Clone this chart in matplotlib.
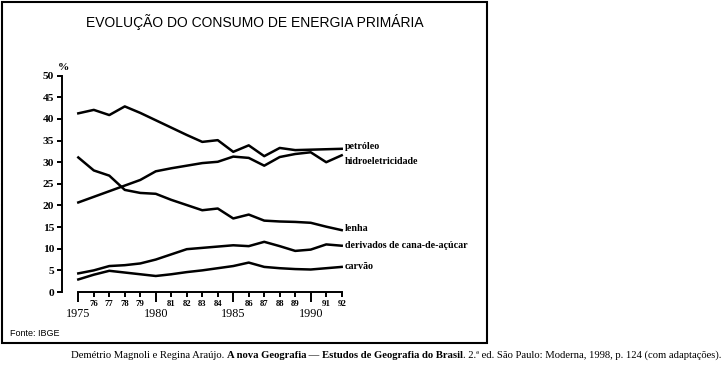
import matplotlib
matplotlib.use("Agg")
import matplotlib.pyplot as plt
from matplotlib.patches import Rectangle

# Data (% do consumo de energia primária)
anos = list(range(1975, 1993))
petroleo = [41.3, 42.1, 40.9, 42.9, 41.4, 39.7, 38.0, 36.3, 34.7, 35.1, 32.4, 33.9, 31.4, 33.3, 32.8, 32.9, 33.0, 33.1]
hidro = [20.7, 22.0, 23.3, 24.6, 25.9, 27.9, 28.6, 29.2, 29.8, 30.1, 31.3, 31.0, 29.2, 31.2, 31.9, 32.3, 30.0, 31.6]
lenha = [31.1, 28.1, 26.9, 23.6, 22.9, 22.7, 21.3, 20.1, 18.9, 19.3, 17.0, 17.9, 16.5, 16.3, 16.2, 16.0, 15.1, 14.3]
derivados = [4.3, 5.0, 6.0, 6.2, 6.6, 7.5, 8.7, 9.9, 10.2, 10.5, 10.8, 10.6, 11.6, 10.6, 9.5, 9.8, 11.0, 10.7]
carvao = [2.9, 4.0, 4.9, 4.5, 4.1, 3.7, 4.1, 4.6, 5.0, 5.5, 6.0, 6.8, 5.8, 5.5, 5.3, 5.2, 5.5, 5.8]

series = [petroleo, hidro, lenha, derivados, carvao]
nomes = ["petróleo", "hidroeletricidade", "lenha", "derivados de cana-de-açúcar", "carvão"]
label_dy = [0.5, -1.4, 0.3, 0.0, 0.2]  # small shifts so the end labels don't overlap

anos_maiores = [1975, 1980, 1985, 1990]
anos_menores = [a for a in anos if a not in anos_maiores]
rot_menores = [str(a)[2:] for a in anos_menores]
yticks = list(range(0, 51, 5))

serif = "Liberation Serif"
sans = "Liberation Sans"

W, H = 722, 369
fig = plt.figure(figsize=(W / 100, H / 100), dpi=100)

# moldura
fig.patches.append(Rectangle((2 / W, 1 - 343 / H), 485 / W, 341 / H, transform=fig.transFigure,
                             fill=False, edgecolor="black", linewidth=1.5))

ax = fig.add_axes([78.3 / W, 1 - 292 / H, 263.4 / W, 216.3 / H])
for s, nome, dy in zip(series, nomes, label_dy):
    ax.plot(anos, s, color="black", linewidth=1.8, clip_on=False)
    ax.text(anos[-1] + 0.2, s[-1] + dy, nome, fontsize=7.2, fontweight="bold", family=serif,
            va="center", ha="left")

ax.set_xlim(1975, 1992)
ax.set_ylim(0, 50)
ax.spines["top"].set_visible(False)
ax.spines["right"].set_visible(False)
ax.spines["left"].set_position(("outward", 11.5))
ax.spines["left"].set_linewidth(1.4)
ax.spines["bottom"].set_linewidth(1.4)

ax.set_yticks(yticks)
ax.set_yticklabels([str(v) for v in yticks], fontsize=8.2, fontweight="bold", family=serif)
ax.tick_params(axis="y", direction="out", length=3.5, width=1.4, pad=2.5)

ax.set_xticks(anos_maiores)
ax.set_xticklabels([str(a) for a in anos_maiores], fontsize=8.7, family=serif)
ax.set_xticks(anos_menores, minor=True)
ax.set_xticklabels(rot_menores, minor=True, fontsize=6.3, fontweight="bold", family=serif)
ax.tick_params(axis="x", which="major", direction="out", length=7.5, width=1.4, pad=4.0)
ax.tick_params(axis="x", which="minor", direction="out", length=3.8, width=1.4, pad=2.0)

ax.text(-0.055, 1.04, "%", transform=ax.transAxes, fontsize=8.2, fontweight="bold", family=serif,
        ha="center", va="center")

fig.text(255 / W, 1 - 22 / H, "EVOLUÇÃO DO CONSUMO DE ENERGIA PRIMÁRIA", family=sans,
         fontsize=10, ha="center", va="center")
fig.text(10 / W, 1 - 334 / H, "Fonte: IBGE", family=sans, fontsize=6.5, ha="left", va="center")

# referência bibliográfica, com partes em negrito
partes = [("Demétrio Magnoli e Regina Araújo. ", "normal"),
          ("A nova Geografia", "bold"),
          (" — ", "normal"),
          ("Estudos de Geografia do Brasil", "bold"),
          (". 2.ª ed. São Paulo: Moderna, 1998, p. 124 (com adaptações).", "normal")]
prev = fig.text(71 / W, 1 - 358 / H, partes[0][0], family=serif, fontsize=7.65,
                ha="left", va="baseline")
for txt, peso in partes[1:]:
    prev = fig.add_artist(plt.Annotation(txt, xy=(1, 0), xycoords=prev, xytext=(0, 0),
                                         textcoords="offset points", family=serif,
                                         fontsize=7.65, fontweight=peso, ha="left",
                                         va="bottom", annotation_clip=False))

fig.savefig("out.png", dpi=100)
